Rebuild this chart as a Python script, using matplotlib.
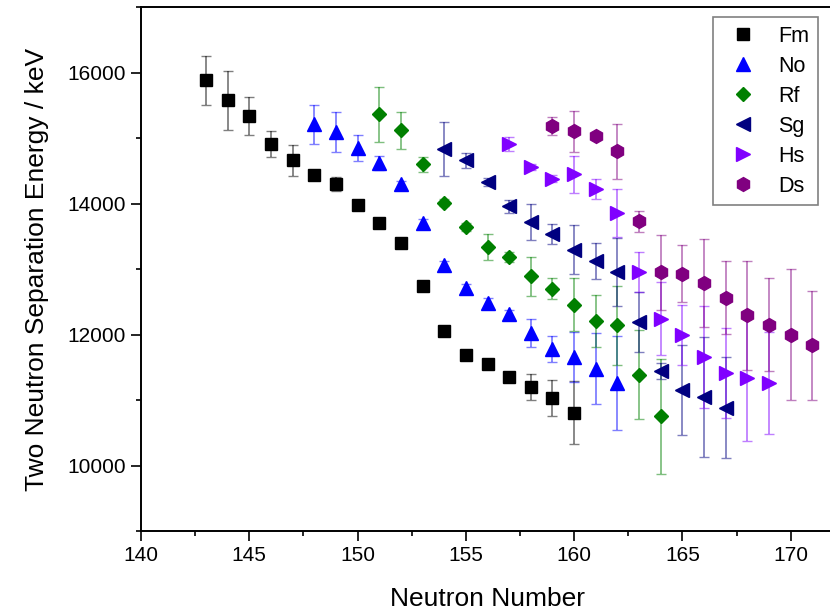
import matplotlib
matplotlib.use('Agg')
import matplotlib.pyplot as plt
from matplotlib.ticker import MultipleLocator
from matplotlib.colors import to_rgba

plt.rcParams['font.family'] = ['Liberation Sans', 'DejaVu Sans']

# Two neutron separation energies (keV)
fm_n = list(range(143, 161))
fm_s2n = [15878, 15573, 15334, 14912, 14657, 14429, 14302, 13971, 13707,
          13396, 12746, 12054, 11694, 11556, 11352, 11200, 11031, 10808]
fm_err = [370, 450, 290, 200, 230, 50, 110, 40, 40, 40, 40, 40, 40, 40, 60,
          200, 280, 480]

no_n = list(range(148, 163))
no_s2n = [15207, 15090, 14851, 14622, 14291, 13701, 13056, 12710, 12481,
          12319, 12024, 11774, 11657, 11478, 11260]
no_err = [300, 300, 200, 110, 60, 60, 60, 60, 70, 60, 220, 200, 380, 545, 720]

rf_n = list(range(151, 165))
rf_s2n = [15359, 15115, 14596, 14012, 13640, 13335, 13183, 12888, 12700,
          12456, 12206, 12140, 11388, 10752]
rf_err = [425, 285, 120, 50, 60, 200, 80, 300, 165, 400, 390, 600, 676, 880]

sg_n = list(range(154, 168))
sg_s2n = [14836, 14657, 14322, 13956, 13716, 13539, 13295, 13121, 12954,
          12190, 11443, 11149, 11046, 10885]
sg_err = [415, 115, 60, 95, 275, 150, 370, 280, 525, 458, 115, 690, 920, 778]

hs_n = list(range(157, 170))
hs_s2n = [14912, 14556, 14378, 14444, 14225, 13854, 12954, 12242, 11988,
          11657, 11413, 11337, 11258]
hs_err = [110, 50, 50, 280, 150, 370, 305, 560, 460, 780, 687, 956, 783]

ds_n = list(range(159, 172))
ds_s2n = [15181, 15100, 15024, 14795, 13732, 12950, 12929, 12792, 12563,
          12293, 12151, 11999, 11835]
ds_err = [140, 310, 60, 415, 160, 570, 440, 670, 560, 830, 712, 1000, 830]

series = [
    ('Fm', fm_n, fm_s2n, fm_err, 's', '#000000', 8.0),
    ('No', no_n, no_s2n, no_err, '^', '#0000ff', 10.0),
    ('Rf', rf_n, rf_s2n, rf_err, 'D', '#008000', 7.5),
    ('Sg', sg_n, sg_s2n, sg_err, '<', '#000080', 10.0),
    ('Hs', hs_n, hs_s2n, hs_err, '>', '#8000ff', 10.0),
    ('Ds', ds_n, ds_s2n, ds_err, 'h', '#800080', 10.0),
]

fig = plt.figure(figsize=(8.3, 6.13), dpi=100)
ax = fig.add_axes([141 / 830., 82 / 613., 693 / 830., 524 / 613.])

handles = []
for label, n, s2n, err, marker, color, ms in series:
    eb = ax.errorbar(n, s2n, yerr=err, fmt=marker, color=color, ms=ms,
                     mec=color, mew=1.0, ecolor=to_rgba(color, 0.5),
                     elinewidth=1.3, capsize=3.6, capthick=1.3, label=label)
    # legend shows the marker only, no error bar
    handles.append(eb[0])

ax.set_xlim(140, 172)
ax.set_ylim(9000, 17000)
ax.xaxis.set_major_locator(MultipleLocator(5))
ax.xaxis.set_minor_locator(MultipleLocator(2.5))
ax.yaxis.set_major_locator(MultipleLocator(2000))
ax.yaxis.set_minor_locator(MultipleLocator(1000))
ax.tick_params(which='major', direction='out', length=7.5, width=1.2,
               labelsize=15, top=False, right=False)
ax.tick_params(which='minor', direction='out', length=3.8, width=1.2,
               top=False, right=False)
for sp in ax.spines.values():
    sp.set_linewidth(1.4)

ax.set_xlabel('Neutron Number', fontsize=19, labelpad=16)
ax.set_ylabel('Two Neutron Separation Energy / keV', fontsize=19, labelpad=13)

leg = ax.legend(handles, [s[0] for s in series], loc='upper right',
                bbox_to_anchor=(0.977, 0.981), borderaxespad=0, numpoints=1,
                fontsize=15.5, fancybox=False, edgecolor='#808080',
                framealpha=1, handlelength=2.05, handletextpad=0.6,
                labelspacing=0.42, borderpad=0.4)
leg.get_frame().set_linewidth(1.2)

fig.savefig('out.png', dpi=100)
